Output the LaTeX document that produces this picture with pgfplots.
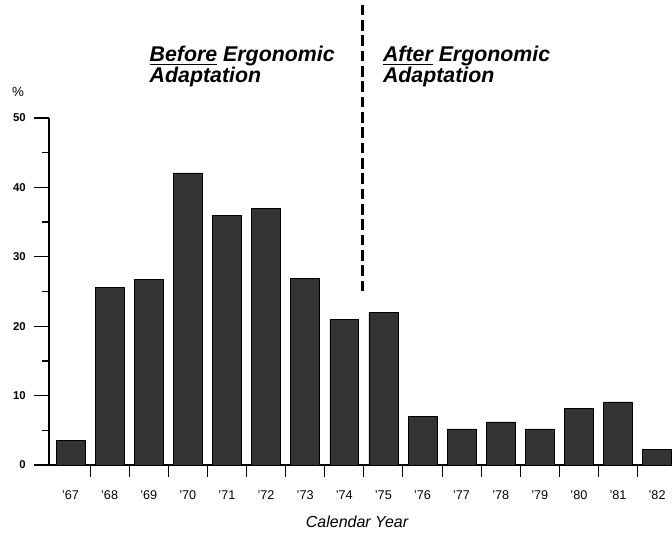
\documentclass[border=0pt]{standalone}
\usepackage{fontspec}
\setmainfont{Liberation Sans}
\usepackage{pgfplots}
\pgfplotsset{compat=1.18}
\begin{document}
\begin{tikzpicture}
\useasboundingbox (-36.75pt,-52.5pt) rectangle (467.25pt,348.75pt);
\begin{axis}[
  at={(0,0)}, anchor=south west,
  scale only axis, width=467.25pt, height=260.25pt,
  xmin=-0.55, xmax=15.38, ymin=0, ymax=50,
  axis x line*=bottom, axis y line*=left,
  axis line style={-, line width=1pt},
  ybar, bar width=0.74,
  xtick={0,...,15},
  xticklabels={'67,'68,'69,'70,'71,'72,'73,'74,'75,'76,'77,'78,'79,'80,'81,'82},
  x tick style={draw=none},
  xticklabel style={font=\fontsize{9.5}{10}\selectfont, yshift=-5pt},
  ytick={0,10,...,50},
  minor ytick={5,15,...,45},
  tick align=outside,
  major tick length=11pt, minor tick length=5pt,
  y tick style={line width=1pt, black},
  yticklabel style={font=\bfseries\fontsize{8.5}{9}\selectfont, xshift=-3pt},
  /pgf/number format/assume math mode=true,
  clip=false,
]
\addplot[fill=black!80, draw=black] coordinates {
  (0,3.5) (1,25.6) (2,26.8) (3,42.1) (4,36.0) (5,37.0) (6,26.9) (7,21.0)
  (8,22.0) (9,7.0) (10,5.2) (11,6.2) (12,5.2) (13,8.2) (14,9.1) (15,2.3)
};
\pgfplotsinvokeforeach{0.5,1.5,...,14.5}{
  \draw[line width=0.8pt] (axis cs:#1,0) -- ++(0pt,-9pt);
}
\draw[line width=2.5pt, dash pattern=on 8pt off 3.5pt] (axis cs:7.47,25) -- (axis cs:7.47,66.3);
\end{axis}
\node[anchor=base west, font=\bfseries\itshape\fontsize{16}{16}\selectfont] at (72pt,302.25pt) {\underline{Before} Ergonomic};
\node[anchor=base west, font=\bfseries\itshape\fontsize{16}{16}\selectfont] at (72pt,286.5pt) {Adaptation};
\node[anchor=base west, font=\bfseries\itshape\fontsize{16}{16}\selectfont] at (247pt,302.25pt) {\underline{After} Ergonomic};
\node[anchor=base west, font=\bfseries\itshape\fontsize{16}{16}\selectfont] at (247pt,286.5pt) {Adaptation};
\node[font=\fontsize{10}{10}\selectfont] at (-23.25pt,279.75pt) {\%};
\node[font=\itshape\fontsize{12}{12}\selectfont] at (231pt,-42.75pt) {Calendar Year};
\end{tikzpicture}
\end{document}
